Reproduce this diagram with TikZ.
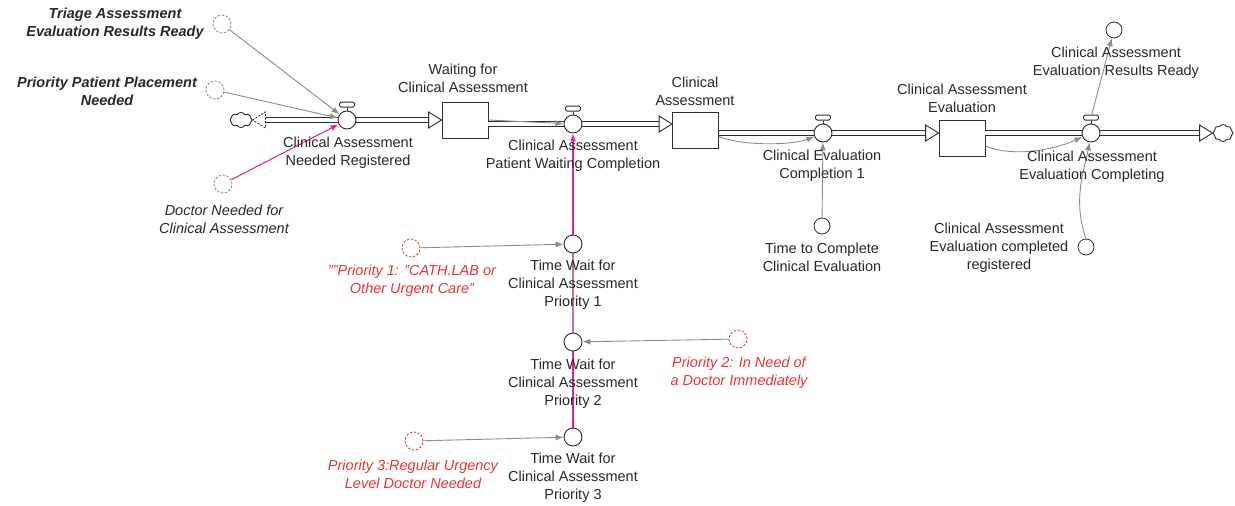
\documentclass[tikz,border=0pt]{standalone}
\usepackage{fontspec}
\setmainfont{Liberation Sans}
\usetikzlibrary{arrows.meta,shapes.symbols,backgrounds}

\definecolor{ink}{RGB}{45,45,45}
\definecolor{txt}{RGB}{40,40,40}
\definecolor{link}{RGB}{140,140,140}
\definecolor{shadowred}{RGB}{238,50,50}
\definecolor{hotpink}{RGB}{244,32,140}
\definecolor{mauve}{RGB}{196,112,160}

\tikzset{
  stockbox/.style={draw=ink, line width=0.9pt, fill=white, minimum width=46pt, minimum height=36pt, inner sep=0},
  valvebody/.style={circle, draw=ink, line width=0.9pt, fill=white, minimum size=18pt, inner sep=0},
  valvecap/.style={draw=ink, line width=0.9pt, fill=white, rounded corners=1.5pt, minimum width=15pt, minimum height=5pt, inner sep=0},
  auxvar/.style={circle, draw=ink, line width=0.8pt, fill=white, minimum size=16pt, inner sep=0},
  ghostvar/.style={circle, draw=link, dashed, dash pattern=on 2.5pt off 1.5pt, line width=0.8pt, fill=white, minimum size=18pt, inner sep=0},
  ghostred/.style={ghostvar, draw=shadowred},
  sink/.style={cloud, cloud puffs=8, cloud puff arc=120, draw=ink, line width=0.9pt, fill=white, inner sep=0, aspect=1.4},
  pipe/.style={draw=ink, line width=0.9pt, double=white, double distance=3.8pt},
  info/.style={draw=link, line width=0.9pt, -{Latex[length=8pt,width=6pt]}},
  infopink/.style={draw=hotpink, line width=1.1pt, -{Latex[length=8pt,width=6pt]}},
  lab/.style={font=\fontsize{14.5}{17.8}\selectfont, align=center, inner sep=0, text=txt},
  redlab/.style={lab, text=shadowred, font=\fontsize{14.5}{17.8}\selectfont\itshape},
  headR/.pic={\draw[ink, line width=0.9pt, fill=white] (0,0) -- (-13,-8) -- (-13,8) -- cycle;},
  headL/.pic={\draw[ink, line width=0.9pt, fill=white, dashed, dash pattern=on 2pt off 1.5pt] (0,0) -- (13,-8) -- (13,8) -- cycle;}
}

% a flow valve: circle with its small cap above
\newcommand\mkvalve[2]{%
  \node[valvebody] (#1) at (#2) {};
  \draw[ink, line width=0.9pt] (#1.north) -- ++(0,-3) coordinate (#1s);
  \node[valvecap, anchor=south] (#1h) at (#1s) {};
}

\begin{document}
\begin{tikzpicture}[x=1pt,y=-1pt]
\useasboundingbox (0,0) rectangle (1235,506);
\begin{scope}[on background layer]
  \fill[white] (0,0) rectangle (1235,506);
\end{scope}

% stocks
\node[stockbox] (s1) at (465,120) {};
\node[stockbox] (s2) at (695.5,130.5) {};
\node[stockbox] (s3) at (962,138) {};

% clouds
\node[sink, minimum width=22pt, minimum height=15pt] (cl1) at (241,120) {};
\node[sink, minimum width=20pt, minimum height=17pt] (cl2) at (1223,133) {};

% pipes
\draw[pipe] (cl1.east) ++(13,0) coordinate (h0) -- (347,120);
\draw[pipe] (347,120) -- ([xshift=-13pt]s1.west);
\draw[pipe] (s1.east |- 0,124) -- (573,124);
\draw[pipe] (573,124) -- ([xshift=-13pt]s2.west |- 0,124);
\draw[pipe] (s2.east |- 0,133) -- (823,133);
\draw[pipe] (823,133) -- ([xshift=-13pt]s3.west |- 0,133);
\draw[pipe] (s3.east |- 0,133) -- (1091,133);
\draw[pipe] (1091,133) -- ([xshift=-13pt]cl2.west |- 0,133);

\pic at (cl1.east |- 0,120) {headL};
\pic at (s1.west) {headR};
\pic at (s2.west |- 0,124) {headR};
\pic at (s3.west |- 0,133) {headR};
\pic at (cl2.west |- 0,133) {headR};

% valves
\mkvalve{v1}{347,120}
\mkvalve{v2}{573,124}
\mkvalve{v3}{823,133}
\mkvalve{v4}{1091,133}

% auxiliaries
\node[auxvar] (ttc) at (822,226) {};
\node[auxvar] (rr) at (1114,30) {};
\node[auxvar] (creg) at (1086,247) {};
\node[valvebody] (p1) at (573,244) {};
\node[valvebody] (p2) at (573,342) {};
\node[valvebody] (p3) at (573,437) {};

% shadow variables
\node[ghostvar] (tri) at (222,24) {};
\node[ghostvar] (ppp) at (215,90) {};
\node[ghostvar] (doc) at (223,184) {};
\node[ghostred] (r1) at (411,248) {};
\node[ghostred] (r2) at (738,339) {};
\node[ghostred] (r3) at (414,441) {};

% priority chain behind the circles
\begin{scope}[on background layer]
  \draw[infopink] (p3) -- (v2);
  \draw[mauve, line width=1.1pt] (p2) -- (p1);
\end{scope}

% information links
\draw[info] (tri) -- (v1);
\draw[info] (ppp) -- (v1);
\draw[infopink] (doc) -- (v1);
\draw[info] (s1.east) -- (v2);
\draw[info] ([yshift=-6pt]s2.east) .. controls +(25,10) and +(-30,12) .. (v3);
\draw[info] (ttc) -- (v3);
\draw[info] ([yshift=-8pt]s3.east) .. controls +(30,12) and +(-35,16) .. (v4);
\draw[info] (creg.north) .. controls +(-14,-40) and +(-6,35) .. (v4);
\draw[info] (v4h) -- (rr);
\draw[info] (r1) -- (p1);
\draw[info] (r2) -- (p2);
\draw[info] (r3) -- (p3);

% labels
\node[lab] (v1lab) at (348,153) {Clinical Assessment\\Needed Registered};
\node[lab] (s1lab) at (463,78) {Waiting for\\Clinical Assessment};
\node[lab] (v2lab) at (573,156) {Clinical Assessment\\Patient Waiting Completion};
\node[lab] (s2lab) at (695,91) {Clinical\\Assessment};
\node[lab] (v3lab) at (822,166) {Clinical Evaluation\\Completion 1};
\node[lab] (s3lab) at (962,98) {Clinical Assessment\\Evaluation};
\node[lab] (v4lab) at (1092,167) {Clinical Assessment\\Evaluation Completing};
\node[lab] (rrlab) at (1116,63) {Clinical Assessment\\Evaluation Results Ready};
\node[lab] (creglab) at (999,248) {Clinical Assessment\\Evaluation completed\\registered};
\node[lab] (ttclab) at (822,257.5) {Time to Complete\\Clinical Evaluation};
\node[lab, font=\fontsize{14.5}{17.8}\selectfont\bfseries\itshape] (trilab) at (115,24) {Triage Assessment\\Evaluation Results Ready};
\node[lab, font=\fontsize{14.5}{17.8}\selectfont\bfseries\itshape] (ppplab) at (107,91) {Priority Patient Placement\\Needed};
\node[lab, font=\fontsize{14.5}{17.8}\selectfont\itshape] (doclab) at (224,219) {Doctor Needed for\\Clinical Assessment};
\node[lab] (p1lab) at (573,285) {Time Wait for\\Clinical Assessment\\Priority 1};
\node[lab] (p2lab) at (573,384) {Time Wait for\\Clinical Assessment\\Priority 2};
\node[lab] (p3lab) at (573,478) {Time Wait for\\Clinical Assessment\\Priority 3};
\node[redlab] (r1lab) at (412,281) {""Priority 1: "CATH.LAB or\\Other Urgent Care"};
\node[redlab] (r2lab) at (739,372.5) {Priority 2: In Need of\\a Doctor Immediately};
\node[redlab] (r3lab) at (413,474.5) {Priority 3:Regular Urgency\\Level Doctor Needed};
\end{tikzpicture}
\end{document}
